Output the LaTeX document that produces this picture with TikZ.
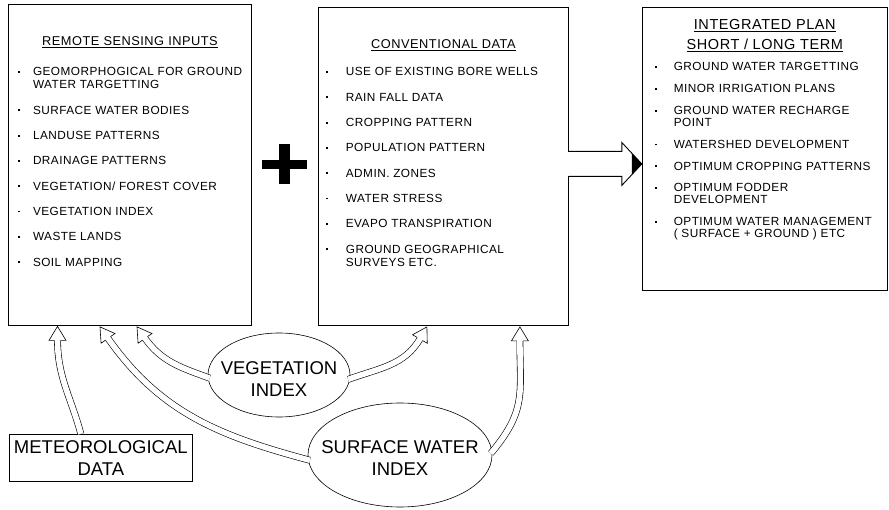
\documentclass[tikz,border=0pt]{standalone}
\usepackage{fontspec}
\setmainfont{Liberation Sans}
\newfontfamily\boxfont{Liberation Sans}[LetterSpace=4]
\usetikzlibrary{positioning,calc,shapes.geometric}

\newcommand{\dotmark}{\rule[3pt]{1.8pt}{1.8pt}}

\tikzset{
  panel/.style   = {draw, line width=0.9pt, rectangle, inner sep=0pt},
  heading/.style = {inner sep=0pt, font=\boxfont\fontsize{12.8}{13}\selectfont},
  list/.style    = {inner sep=0pt, font=\boxfont\fontsize{11.8}{13}\selectfont},
  bigtext/.style = {inner sep=0pt, align=center, font=\fontsize{18.5}{22}\selectfont},
  oval/.style    = {draw, ellipse, line width=0.6pt, inner sep=0pt},
  shaft/.style   = {draw, line width=0.6pt, double=white, double distance=5.6pt},
  hollowhead/.pic = {
    \fill[white] (-8.5,-14) -- (0,0) -- (8.5,-14) -- cycle;
    \draw[line width=0.6pt] (-3.1,-14) -- (-8.5,-14) -- (0,0) -- (8.5,-14) -- (3.1,-14);
  }
}

\begin{document}
\begin{tikzpicture}[x=1pt,y=1pt]
  \useasboundingbox (0,0) rectangle (889,-510);

  % the three main boxes
  \node[panel, minimum width=243, minimum height=321, anchor=north west] (rs) at (8,-4) {};
  \node[panel, minimum width=250, minimum height=318,
        right=66pt of rs.south east, anchor=south west] (cv) {};
  \node[panel, minimum width=245, minimum height=283,
        right=73pt of cv.north east, anchor=north west] (ip) {};

  % headings
  \node[heading, below=42pt of rs.north, anchor=base] (rs head) {\underline{REMOTE SENSING INPUTS}};
  \node[heading, below=42pt of cv.north, anchor=base] (cv head) {\underline{CONVENTIONAL DATA}};
  \node[heading, font=\boxfont\fontsize{14.5}{13}\selectfont, below=23pt of ip.north, anchor=base] (ip head)
    {\begin{tabular}[t]{@{}c@{}}\underline{INTEGRATED PLAN}\\[5pt]\underline{SHORT / LONG TERM}\end{tabular}};

  % the lists of items
  \node[list, below right=72pt and 10pt of rs.north west, anchor=base west] (rs list)
    {\begin{tabular}[t]{@{}l@{\hspace{13pt}}l@{}}
      \dotmark & GEOMORPHOGICAL FOR GROUND\\
               & WATER TARGETTING\\[12.3pt]
      \dotmark & SURFACE WATER BODIES\\[12.3pt]
      \dotmark & LANDUSE PATTERNS\\[12.3pt]
      \dotmark & DRAINAGE PATTERNS\\[12.3pt]
      \dotmark & VEGETATION/ FOREST COVER\\[12.3pt]
      \dotmark & VEGETATION INDEX\\[12.3pt]
      \dotmark & WASTE LANDS\\[12.3pt]
      \dotmark & SOIL MAPPING
    \end{tabular}};
  \node[list, below right=69pt and 8pt of cv.north west, anchor=base west] (cv list)
    {\begin{tabular}[t]{@{}l@{\hspace{18pt}}l@{}}
      \dotmark & USE OF EXISTING BORE WELLS\\[12.3pt]
      \dotmark & RAIN FALL DATA\\[12.3pt]
      \dotmark & CROPPING PATTERN\\[12.3pt]
      \dotmark & POPULATION PATTERN\\[12.3pt]
      \dotmark & ADMIN. ZONES\\[12.3pt]
      \dotmark & WATER STRESS\\[12.3pt]
      \dotmark & EVAPO TRANSPIRATION\\[12.3pt]
      \dotmark & GROUND GEOGRAPHICAL\\
               & SURVEYS ETC.
    \end{tabular}};
  \node[list, font=\boxfont\fontsize{11.8}{12}\selectfont,
        below right=64pt and 13pt of ip.north west, anchor=base west] (ip list)
    {\begin{tabular}[t]{@{}l@{\hspace{17pt}}l@{}}
      \dotmark & GROUND WATER TARGETTING\\[9.8pt]
      \dotmark & MINOR IRRIGATION PLANS\\[9.8pt]
      \dotmark & GROUND WATER RECHARGE\\
               & POINT\\[9.8pt]
      \dotmark & WATERSHED DEVELOPMENT\\[9.8pt]
      \dotmark & OPTIMUM CROPPING PATTERNS\\[9.8pt]
      \dotmark & OPTIMUM FODDER\\
               & DEVELOPMENT\\[9.8pt]
      \dotmark & OPTIMUM WATER MANAGEMENT\\
               & ( SURFACE + GROUND ) ETC
    \end{tabular}};

  % plus sign between the first two boxes
  \coordinate (plus) at ($(rs.east)!0.5!(cv.west)+(0,1.5)$);
  \fill ($(plus)+(-5.5,20)$) rectangle ($(plus)+(5.5,-20)$);
  \fill ($(plus)+(-22.5,4.5)$) rectangle ($(plus)+(22.5,-4.5)$);

  % big hollow arrow into the plan box
  \coordinate (ba) at ($(cv.east)+(0,2.5)$);
  \fill[white] ($(ba)+(-1,12)$) rectangle ($(ba)+(1,-12)$);
  \draw[line width=0.9pt] ($(ba)+(0,12.5)$) -- ++(53,0) -- ++(0,9) -- (ip.west |- ba)
    -- ++(-20,-21.5) -- ++(0,9) -- ($(ba)+(0,-12.5)$);
  \fill (ip.west |- ba) -- ++(-10,10.75) -- ++(0,-21.5) -- cycle;

  % lower inputs
  \node[panel, bigtext, line width=0.7pt, minimum width=183, minimum height=47,
        below=108pt of rs.south west, anchor=north west, xshift=1pt] (met) {METEOROLOGICAL\\DATA};
  \node[oval, minimum width=142, minimum height=84] (veg) at (279,-375) {};
  \node[bigtext] at ($(veg)+(0,-4)$) {VEGETATION\\INDEX};
  \node[oval, minimum width=184, minimum height=104] (sw) at (400,-455) {};
  \node[bigtext] at ($(sw)+(0,-3.5)$) {SURFACE WATER\\INDEX};

  % tips of the hollow arrows
  \coordinate (t1) at ($(rs.south west)+(49.5,-0.5)$);
  \coordinate (t2) at ($(rs.south west)+(92,-1)$);
  \coordinate (t3) at ($(rs.south west)+(129,-1)$);
  \coordinate (t4) at ($(cv.south west)+(109,-1)$);
  \coordinate (t5) at ($(cv.south west)+(202,-1)$);

  \draw[shaft] (met.130) to[out=105, in=-90] ($(t1)+(-90:13)$);
  \pic at (t1) {hollowhead};
  \draw[shaft, shorten <=-2pt] (sw.183) to[out=165, in=-55] ($(t2)+(-55:13)$);
  \pic[rotate=35] at (t2) {hollowhead};
  \draw[shaft, shorten <=-2pt] (veg.182) to[out=160, in=-55] ($(t3)+(-55:13)$);
  \pic[rotate=35] at (t3) {hollowhead};
  \draw[shaft, shorten <=-2pt] (veg.-3) to[out=20, in=-120] ($(t4)+(-120:13)$);
  \pic[rotate=-30] at (t4) {hollowhead};
  \draw[shaft, shorten <=-2pt] (sw.2) to[out=50, in=-90, looseness=1.2] ($(t5)+(-90:13)$);
  \pic at (t5) {hollowhead};
\end{tikzpicture}
\end{document}
